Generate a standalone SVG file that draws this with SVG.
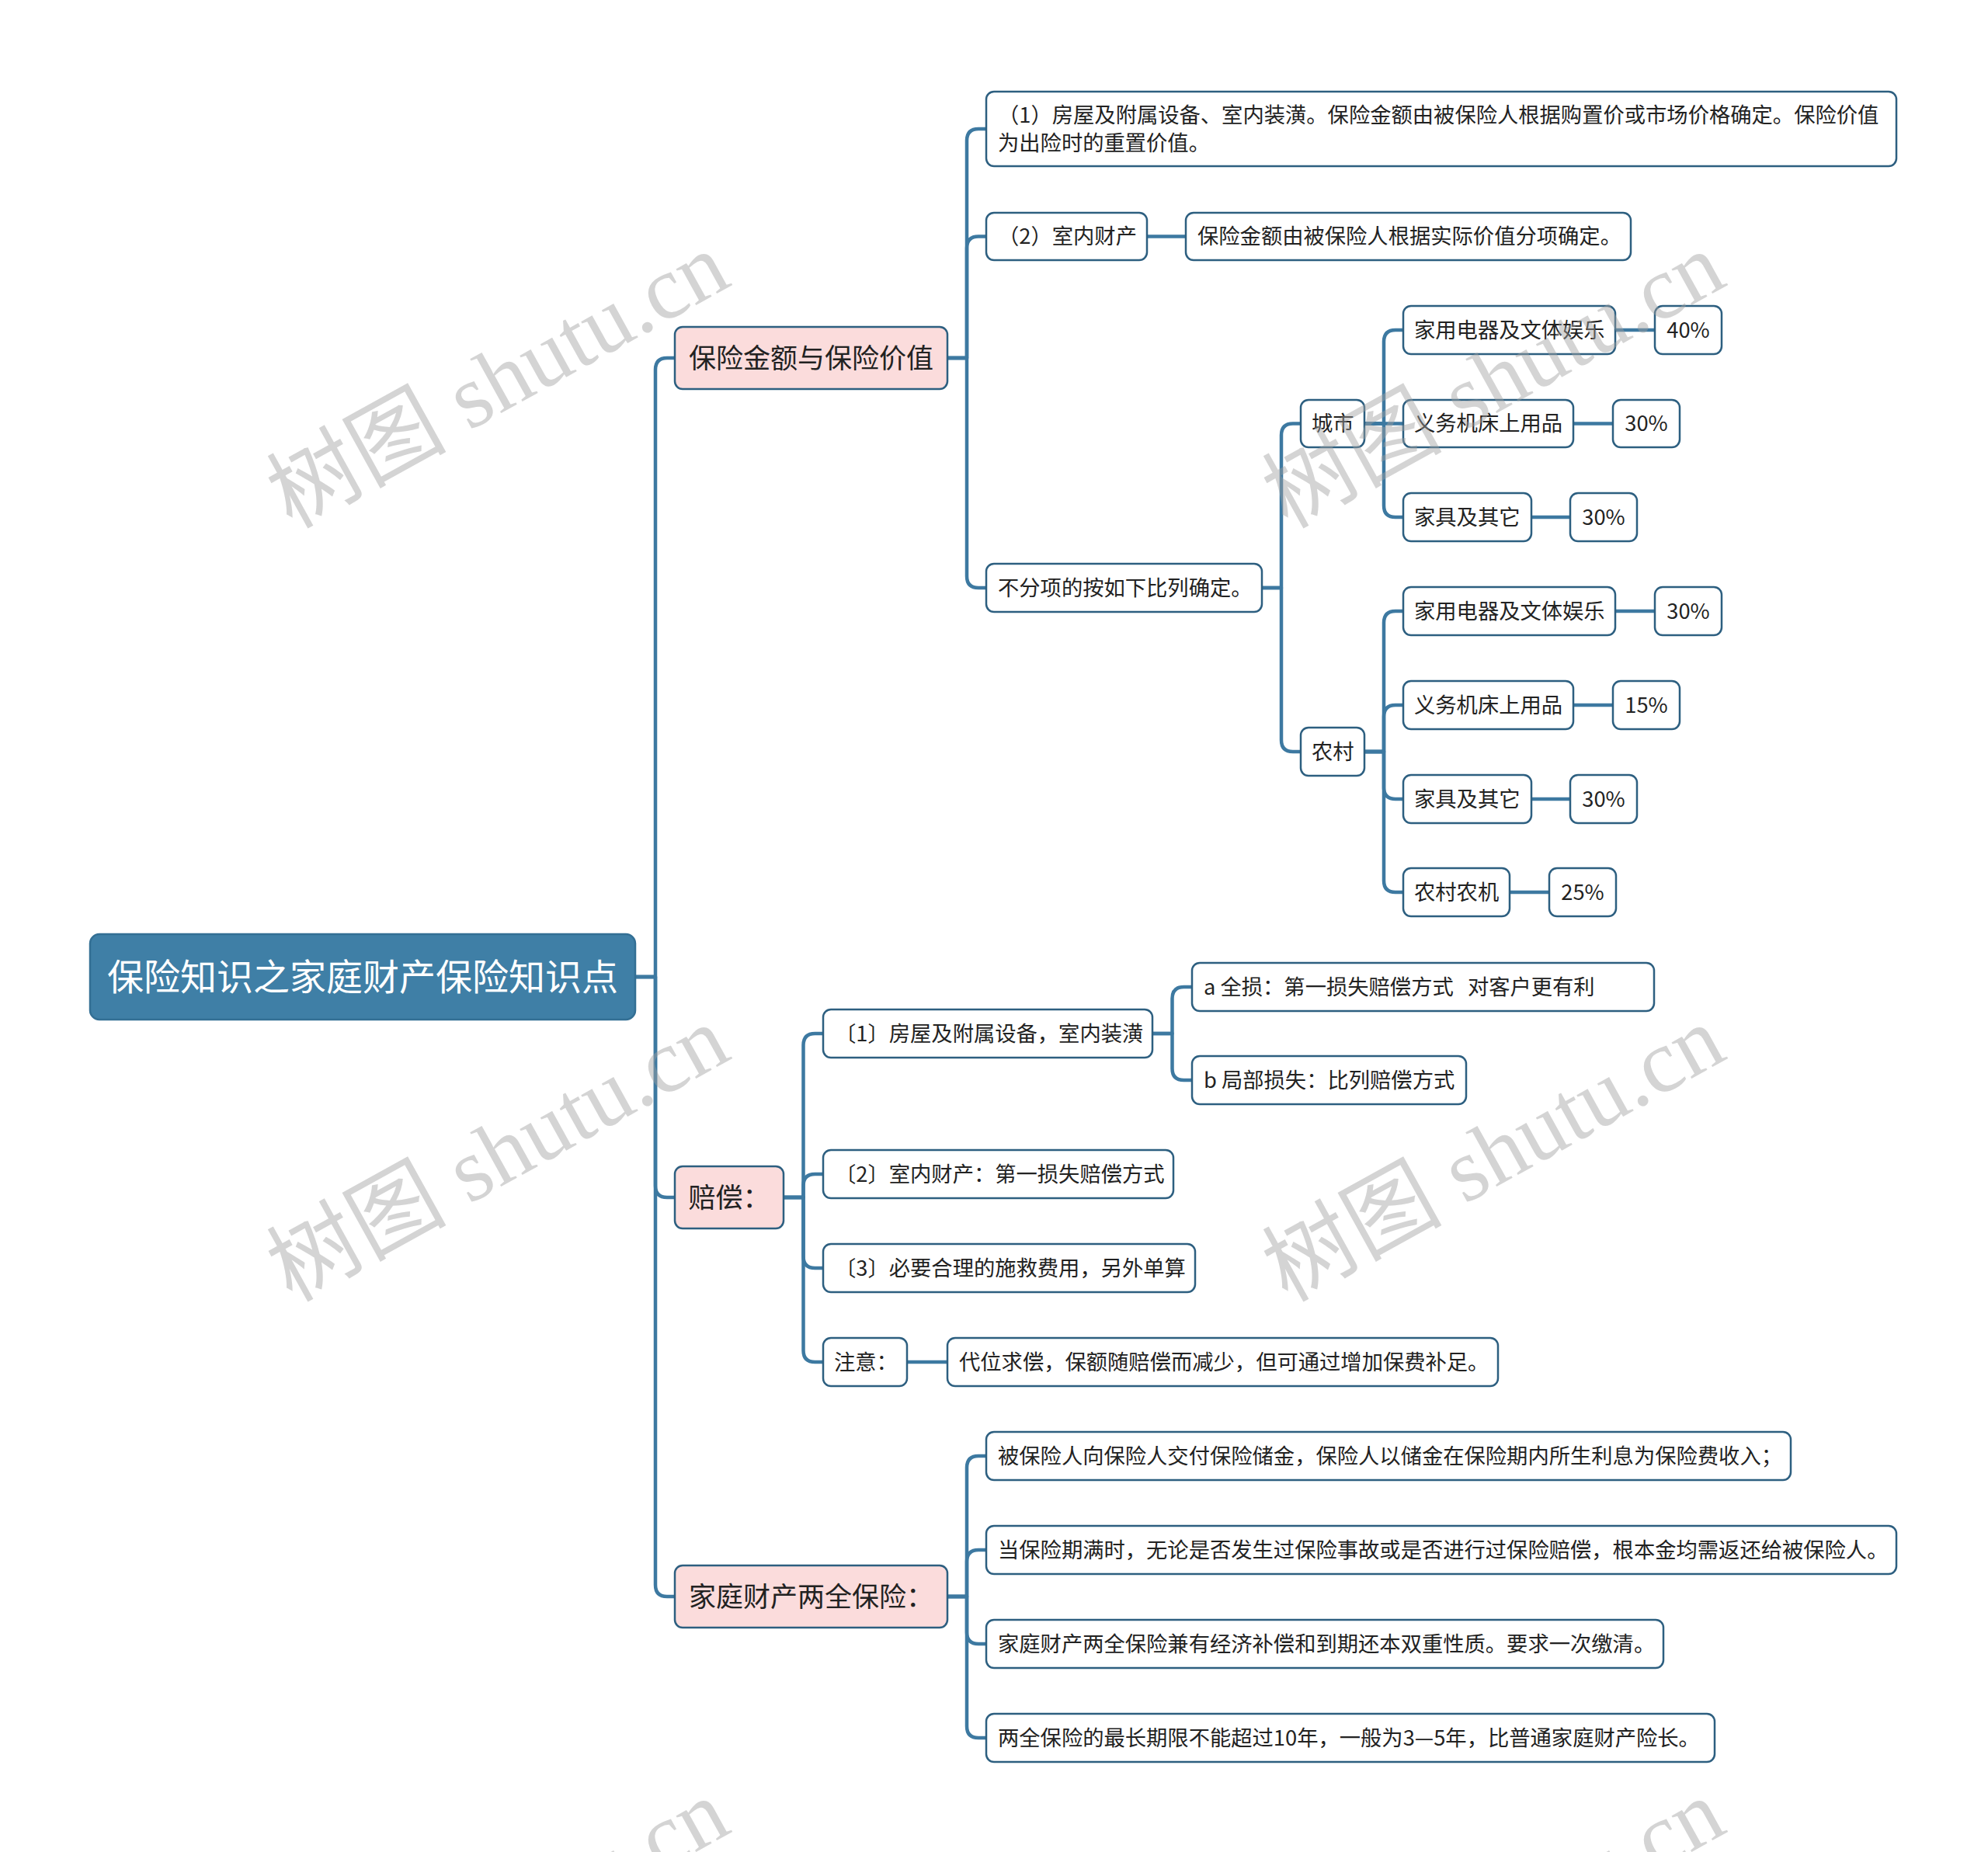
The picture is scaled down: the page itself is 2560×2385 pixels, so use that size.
<svg xmlns="http://www.w3.org/2000/svg" width="2560" height="2385" viewBox="0 0 2560 2385">
<style>
.n rect{fill:#ffffff;stroke:#2d5f80;stroke-width:2.5}
.l1 rect{fill:#fbdcdc}
.n text{font-family:"Noto Sans CJK SC","Noto Sans",sans-serif;font-size:27.3px;fill:#222222}
.l1 text{font-size:35px;text-anchor:middle}
.p text{text-anchor:middle}
#root rect{fill:#3f7fa6;stroke:#336f94}
#root text{font-size:47px;fill:#ffffff;text-anchor:middle}
.c path{fill:none;stroke:#3d79a1;stroke-width:4.5;stroke-linecap:round;stroke-linejoin:round}
.wm{font-family:"Liberation Serif","Noto Sans CJK SC",serif;font-size:116px;fill:#a0a0a0;fill-opacity:0.45;text-anchor:middle}
</style>
<rect x="0" y="0" width="2560" height="2385" fill="#ffffff"/>
<g class="c" id="connectors">
<path d="M818,1258 H844 V476 Q844,461 859,461 H869"/>
<path d="M818,1258 H844 V1527 Q844,1542 859,1542 H869"/>
<path d="M818,1258 H844 V2041 Q844,2056 859,2056 H869"/>
<path d="M1220,461 H1245 V181 Q1245,166 1260,166 H1270"/>
<path d="M1220,461 H1245 V319.5 Q1245,304.5 1260,304.5 H1270"/>
<path d="M1220,461 H1245 V742 Q1245,757 1260,757 H1270"/>
<path d="M1477,304.5 H1527"/>
<path d="M1625,757 H1650 V560.5 Q1650,545.5 1665,545.5 H1675"/>
<path d="M1625,757 H1650 V953 Q1650,968 1665,968 H1675"/>
<path d="M1757,545.5 H1782 V440 Q1782,425 1797,425 H1807"/>
<path d="M1757,545.5 H1807"/>
<path d="M1757,545.5 H1782 V651 Q1782,666 1797,666 H1807"/>
<path d="M1757,968 H1782 V802 Q1782,787 1797,787 H1807"/>
<path d="M1757,968 H1782 V923 Q1782,908 1797,908 H1807"/>
<path d="M1757,968 H1782 V1014 Q1782,1029 1797,1029 H1807"/>
<path d="M1757,968 H1782 V1134 Q1782,1149 1797,1149 H1807"/>
<path d="M2080,425 H2131"/>
<path d="M2026,545.5 H2077"/>
<path d="M1972,666 H2022"/>
<path d="M2080,787 H2131"/>
<path d="M2026,908 H2077"/>
<path d="M1972,1029 H2022"/>
<path d="M1944,1149 H1995"/>
<path d="M1009,1542 H1034.5 V1346 Q1034.5,1331 1049.5,1331 H1060"/>
<path d="M1009,1542 H1034.5 V1527 Q1034.5,1512 1049.5,1512 H1060"/>
<path d="M1009,1542 H1034.5 V1618 Q1034.5,1633 1049.5,1633 H1060"/>
<path d="M1009,1542 H1034.5 V1739 Q1034.5,1754 1049.5,1754 H1060"/>
<path d="M1484,1331 H1509.5 V1286 Q1509.5,1271 1524.5,1271 H1535"/>
<path d="M1484,1331 H1509.5 V1376 Q1509.5,1391 1524.5,1391 H1535"/>
<path d="M1168,1754 H1220"/>
<path d="M1220,2056 H1245 V1890 Q1245,1875 1260,1875 H1270"/>
<path d="M1220,2056 H1245 V2011 Q1245,1996 1260,1996 H1270"/>
<path d="M1220,2056 H1245 V2102 Q1245,2117 1260,2117 H1270"/>
<path d="M1220,2056 H1245 V2223 Q1245,2238 1260,2238 H1270"/>
</g>
<g class="n" id="root"><rect x="116" y="1203" width="702" height="110" rx="12"/><text x="467" y="1275">保险知识之家庭财产保险知识点</text></g>
<g class="n l1" id="n-a"><rect x="869" y="421" width="351" height="80" rx="10"/><text x="1044.5" y="473.6">保险金额与保险价值</text></g>
<g class="n l1" id="n-b"><rect x="869" y="1502" width="140" height="80" rx="10"/><text x="939" y="1554.6">赔偿：</text></g>
<g class="n l1" id="n-c"><rect x="869" y="2016" width="351" height="80" rx="10"/><text x="1044.5" y="2068.6">家庭财产两全保险：</text></g>
<g class="n" id="n-a1"><rect x="1270" y="118" width="1172" height="96" rx="10"/><text x="1285" y="158">（1）房屋及附属设备、室内装潢。保险金额由被保险人根据购置价或市场价格确定。保险价值</text><text x="1285" y="194">为出险时的重置价值。</text></g>
<g class="n" id="n-a2"><rect x="1270" y="274" width="207" height="61" rx="10"/><text x="1285" y="314">（2）室内财产</text></g>
<g class="n" id="n-a2a"><rect x="1527" y="274" width="573" height="61" rx="10"/><text x="1542" y="314">保险金额由被保险人根据实际价值分项确定。</text></g>
<g class="n" id="n-a3"><rect x="1270" y="726" width="355" height="62" rx="10"/><text x="1285" y="766.7">不分项的按如下比列确定。</text></g>
<g class="n" id="n-city"><rect x="1675" y="515" width="82" height="61" rx="10"/><text x="1689" y="555">城市</text></g>
<g class="n" id="n-rural"><rect x="1675" y="937" width="82" height="62" rx="10"/><text x="1689" y="977.7">农村</text></g>
<g class="n" id="n-u1"><rect x="1807" y="394" width="273" height="62" rx="10"/><text x="1821" y="434.7">家用电器及文体娱乐</text></g>
<g class="n p" id="n-u1p"><rect x="2131" y="394" width="86" height="62" rx="10"/><text x="2174" y="434.7">40%</text></g>
<g class="n" id="n-u2"><rect x="1807" y="515" width="219" height="61" rx="10"/><text x="1821" y="555">义务机床上用品</text></g>
<g class="n p" id="n-u2p"><rect x="2077" y="515" width="86" height="61" rx="10"/><text x="2120" y="555">30%</text></g>
<g class="n" id="n-u3"><rect x="1807" y="635" width="165" height="62" rx="10"/><text x="1821" y="675.7">家具及其它</text></g>
<g class="n p" id="n-u3p"><rect x="2022" y="635" width="86" height="62" rx="10"/><text x="2065" y="675.7">30%</text></g>
<g class="n" id="n-r1"><rect x="1807" y="756" width="273" height="62" rx="10"/><text x="1821" y="796.7">家用电器及文体娱乐</text></g>
<g class="n p" id="n-r1p"><rect x="2131" y="756" width="86" height="62" rx="10"/><text x="2174" y="796.7">30%</text></g>
<g class="n" id="n-r2"><rect x="1807" y="877" width="219" height="62" rx="10"/><text x="1821" y="917.7">义务机床上用品</text></g>
<g class="n p" id="n-r2p"><rect x="2077" y="877" width="86" height="62" rx="10"/><text x="2120" y="917.7">15%</text></g>
<g class="n" id="n-r3"><rect x="1807" y="998" width="165" height="62" rx="10"/><text x="1821" y="1038.7">家具及其它</text></g>
<g class="n p" id="n-r3p"><rect x="2022" y="998" width="86" height="62" rx="10"/><text x="2065" y="1038.7">30%</text></g>
<g class="n" id="n-r4"><rect x="1807" y="1118" width="137" height="62" rx="10"/><text x="1821" y="1158.7">农村农机</text></g>
<g class="n p" id="n-r4p"><rect x="1995" y="1118" width="86" height="62" rx="10"/><text x="2038" y="1158.7">25%</text></g>
<g class="n" id="n-b1"><rect x="1060" y="1300" width="424" height="62" rx="10"/><text x="1075" y="1340.7">〔1〕房屋及附属设备，室内装潢</text></g>
<g class="n" id="n-b1a"><rect x="1535" y="1240" width="595" height="62" rx="10"/><text x="1550" y="1280.7">a 全损：第一损失赔偿方式 <tspan dx="12">对客户更有利</tspan></text></g>
<g class="n" id="n-b1b"><rect x="1535" y="1360" width="353" height="62" rx="10"/><text x="1550" y="1400.7">b 局部损失：比列赔偿方式</text></g>
<g class="n" id="n-b2"><rect x="1060" y="1481" width="451" height="62" rx="10"/><text x="1075" y="1521.7">〔2〕室内财产：第一损失赔偿方式</text></g>
<g class="n" id="n-b3"><rect x="1060" y="1602" width="479" height="62" rx="10"/><text x="1075" y="1642.7">〔3〕必要合理的施救费用，另外单算</text></g>
<g class="n" id="n-b4"><rect x="1060" y="1723" width="108" height="62" rx="10"/><text x="1074" y="1763.7">注意：</text></g>
<g class="n" id="n-b4a"><rect x="1220" y="1723" width="709" height="62" rx="10"/><text x="1235" y="1763.7">代位求偿，保额随赔偿而减少，但可通过增加保费补足。</text></g>
<g class="n" id="n-c1"><rect x="1270" y="1844" width="1036" height="62" rx="10"/><text x="1285" y="1884.7">被保险人向保险人交付保险储金，保险人以储金在保险期内所生利息为保险费收入；</text></g>
<g class="n" id="n-c2"><rect x="1270" y="1965" width="1172" height="62" rx="10"/><text x="1285" y="2005.7">当保险期满时，无论是否发生过保险事故或是否进行过保险赔偿，根本金均需返还给被保险人。</text></g>
<g class="n" id="n-c3"><rect x="1270" y="2086" width="872" height="62" rx="10"/><text x="1285" y="2126.7">家庭财产两全保险兼有经济补偿和到期还本双重性质。要求一次缴清。</text></g>
<g class="n" id="n-c4"><rect x="1270" y="2207" width="938" height="62" rx="10"/><text x="1285" y="2247.7">两全保险的最长期限不能超过10年，一般为3—5年，比普通家庭财产险长。</text></g>
<g id="watermarks">
<text class="wm" transform="translate(660,524) rotate(-29)">树图 shutu.cn</text>
<text class="wm" transform="translate(1942,524) rotate(-29)">树图 shutu.cn</text>
<text class="wm" transform="translate(660,1520) rotate(-29)">树图 shutu.cn</text>
<text class="wm" transform="translate(1942,1520) rotate(-29)">树图 shutu.cn</text>
<text class="wm" transform="translate(660,2516) rotate(-29)">树图 shutu.cn</text>
<text class="wm" transform="translate(1942,2516) rotate(-29)">树图 shutu.cn</text>
</g>
</svg>
